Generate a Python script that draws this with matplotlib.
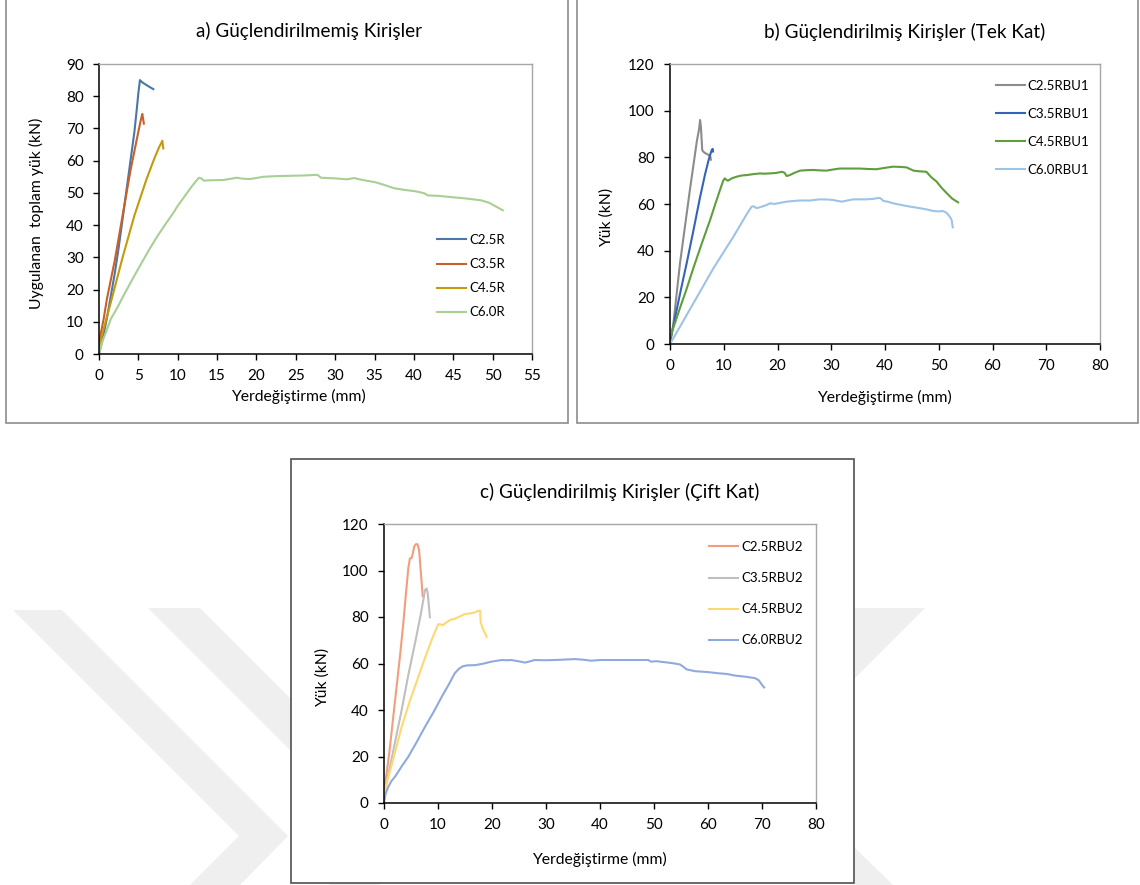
import matplotlib
matplotlib.use("Agg")
import matplotlib.pyplot as plt
from matplotlib.patches import Rectangle, Polygon

plt.rcParams['font.family'] = ['Lato', 'DejaVu Sans']

W, H = 1140, 885

# --- a) Güçlendirilmemiş Kirişler ---
a_x_c25 = [0, 0.5, 1.0, 1.5, 2.0, 2.5, 3.0, 3.5, 4.0, 4.5, 4.8, 5.0, 5.2, 5.5, 6.2, 6.9]
a_y_c25 = [0, 5, 11, 18, 25, 33, 42, 51, 60, 69, 76, 81, 85, 84.3, 83.2, 82.2]
a_x_c35 = [0, 0.2, 0.6, 1.0, 2.0, 3.0, 4.0, 4.5, 5.0, 5.3, 5.5, 5.6, 5.7]
a_y_c35 = [2, 6, 11, 17, 29, 43, 57, 63, 69, 72.5, 74.5, 73, 71.5]
a_x_c45 = [0, 0.5, 1.5, 3.0, 4.5, 6.0, 7.0, 7.6, 8.05, 8.1, 8.17]
a_y_c45 = [2, 7, 16, 30, 43, 54, 60.5, 64, 66.2, 65, 63.8]
a_x_c60 = [0, 0.3, 0.67, 1.0, 1.52, 2.2, 3.2, 4.2, 5.3, 6.4, 7.4, 8.5, 9.5, 10.0, 10.6,
           11.6, 12.2, 12.7, 13.0, 13.3, 14.0, 15.8, 17.5, 18.3, 19.2, 20.9, 22.5, 24.2,
           26.0, 27.75, 28.2, 30.0, 31.5, 32.4, 33.5, 35.1, 36.2, 37.4, 38.6, 40.2, 41.3,
           41.8, 43.0, 45.1, 46.5, 48.5, 49.5, 50.4, 51.3]
a_y_c60 = [0, 3, 5.4, 7.5, 11.0, 13.8, 18.5, 23.0, 27.8, 32.5, 36.5, 40.5, 44.0, 46.0, 48.0,
           51.4, 53.3, 54.7, 54.5, 53.8, 53.9, 54.0, 54.7, 54.4, 54.3, 55.0, 55.2, 55.3,
           55.4, 55.6, 54.7, 54.5, 54.2, 54.6, 54.0, 53.3, 52.5, 51.5, 51.0, 50.5, 49.9,
           49.2, 49.1, 48.6, 48.3, 47.7, 47.0, 45.8, 44.6]

# --- b) Tek Kat ---
b_x_c25 = [0, 0.6, 1.86, 3.7, 5.0, 5.4, 5.6, 5.75, 5.9, 6.0, 6.4, 6.8, 7.2, 7.5, 7.6]
b_y_c25 = [0, 8, 34.6, 66, 87, 92, 96, 93, 87, 83, 82, 81.5, 81, 80.3, 79]
b_x_c35 = [0, 0.5, 1.0, 2.0, 3.1, 4.3, 5.6, 6.5, 7.2, 7.6, 7.8, 7.95, 8.0]
b_y_c35 = [1, 6.5, 12, 23, 34.6, 48, 63, 72.5, 79, 82, 83.3, 83.6, 82.5]
b_x_c45 = [0, 0.4, 1.0, 1.86, 3.0, 4.34, 5.9, 7.44, 8.5, 9.3, 9.9, 10.2, 10.5, 10.8, 11.5,
           12.4, 13.3, 14.3, 15.5, 16.7, 17.6, 18.6, 19.7, 20.8, 21.3, 21.7, 22.3, 23.2,
           24.2, 25.5, 26.7, 27.9, 29.1, 30.4, 31.6, 33.5, 35.3, 36.9, 38.4, 40.0, 41.5,
           42.8, 44.0, 45.3, 46.5, 47.7, 48.6, 49.6, 50.5, 51.5, 52.5, 53.6]
b_y_c45 = [2, 5.5, 9.5, 15.5, 23, 32.5, 43, 53, 60.5, 66, 70, 71, 70.3, 70, 71,
           71.7, 72.2, 72.4, 72.8, 73.1, 73.0, 73.1, 73.3, 73.8, 73.4, 72.0, 72.4, 73.4,
           74.3, 74.5, 74.6, 74.4, 74.3, 74.8, 75.2, 75.2, 75.2, 75.0, 74.9, 75.5, 76.0,
           75.9, 75.7, 74.3, 74.0, 73.8, 71.5, 69.6, 67.0, 64.6, 62.3, 60.7]
b_x_c60 = [0, 2, 4.34, 8.06, 11.8, 14.5, 15.2, 15.6, 16.1, 17.0, 18.0, 18.6, 19.5, 20.5,
           21.7, 23.0, 24.2, 26.0, 27.9, 29.5, 30.4, 31.2, 32.0, 33.0, 34.1, 35.5, 36.6,
           37.8, 38.8, 39.2, 39.7, 40.5, 41.5, 43.0, 44.6, 46.0, 47.7, 49.0, 50.0, 50.8,
           51.4, 51.8, 52.2, 52.4, 52.6]
b_y_c60 = [0, 8, 17.4, 32.4, 46, 56.5, 58.9, 59.0, 58.2, 58.8, 59.6, 60.3, 60.0, 60.5,
           61.0, 61.3, 61.5, 61.5, 62.0, 61.9, 61.7, 61.3, 61.0, 61.5, 62.0, 62.0, 62.0,
           62.2, 62.6, 62.4, 61.3, 61.0, 60.3, 59.6, 58.9, 58.4, 57.7, 57.0, 56.8, 57.0,
           56.3, 55.3, 54.0, 53.1, 50.0]

# --- c) Çift Kat ---
c_x_c25 = [0, 0.5, 1.0, 2.0, 3.0, 3.6, 4.1, 4.5, 4.8, 5.1, 5.3, 5.6, 5.9, 6.2, 6.5, 6.8, 7.0, 7.16]
c_y_c25 = [5.6, 13, 22, 43, 64, 78, 91, 101, 105.2, 105.3, 107, 110.3, 111.3, 111.3, 108.8, 100, 94, 89]
c_x_c35 = [0, 0.5, 1.5, 3.27, 4.5, 5.74, 6.8, 7.6, 7.9, 8.1, 8.3, 8.5]
c_y_c35 = [4.2, 9, 20, 40, 55, 68.7, 81, 91.6, 92.3, 90.2, 85, 79.9]
c_x_c45 = [0, 0.5, 1.5, 3.27, 4.8, 6.36, 7.6, 8.83, 9.5, 10.06, 10.5, 10.9, 11.5, 12.4,
           13.0, 14.0, 15.0, 16.2, 17.0, 17.5, 17.8, 17.9, 18.3, 19.0]
c_y_c45 = [4, 8.5, 17, 32.8, 44, 54.3, 62.5, 70.1, 74, 76.9, 76.8, 76.5, 77.6, 78.9,
           79.1, 80.2, 81.3, 81.6, 82.2, 82.7, 82.7, 77.6, 75, 71.5]
c_x_c60 = [0, 0.3, 0.8, 1.4, 2.04, 3.2, 4.5, 6.0, 7.6, 9.2, 10.7, 12.0, 13.1, 13.9, 14.7,
           15.5, 16.9, 18.5, 19.9, 21.0, 21.8, 22.7, 23.6, 24.8, 26.1, 27.0, 27.9, 29.7,
           31.6, 33.5, 35.4, 37.0, 38.4, 40.0, 41.5, 45.0, 48.9, 49.5, 50.5, 51.4, 52.6,
           53.8, 54.8, 55.5, 56.0, 57.6, 60.0, 61.9, 63.5, 65.0, 67.0, 68.7, 69.4, 69.9, 70.4]
c_y_c60 = [0, 4, 7, 9.5, 11.3, 15.5, 19.9, 26.0, 32.8, 39.2, 45.7, 51.0, 55.8, 57.8, 58.9,
           59.2, 59.3, 60.0, 60.8, 61.2, 61.5, 61.4, 61.5, 61.0, 60.4, 60.9, 61.5, 61.4,
           61.5, 61.7, 61.9, 61.6, 61.2, 61.5, 61.5, 61.5, 61.5, 60.8, 61.0, 60.7, 60.4,
           60.0, 59.6, 58.5, 57.5, 56.7, 56.3, 55.8, 55.5, 54.8, 54.3, 53.7, 52.8, 51.1, 49.7]


def px(x, y):
    # piksel (sol-üst) -> figür koordinatı
    return x / W, 1 - y / H


def axes_px(fig, x0, y0, x1, y1):
    l, t = px(x0, y0)
    r, b = px(x1, y1)
    a = fig.add_axes([l, b, r - l, t - b])
    a.set_zorder(5)
    return a


fig = plt.figure(figsize=(W / 100, H / 100), dpi=100)

# soluk filigran
wm = '#efefef'
for poly in [
    [(13, 610), (62, 610), (288, 836), (240, 885), (190, 885), (239, 836)],
    [(148, 608), (200, 608), (428, 836), (379, 885), (329, 885), (376, 836)],
    [(855, 608), (925, 608), (855, 678)],
    [(855, 848), (893, 885), (855, 885)],
]:
    fig.add_artist(Polygon([px(*p) for p in poly], closed=True, transform=fig.transFigure,
                           facecolor=wm, edgecolor='none', zorder=-2))

# panel çerçeveleri
for (x0, y0, x1, y1, ec) in [(6, -5, 568, 423, '#8c8c8c'),
                             (577, -5, 1138, 423, '#8c8c8c'),
                             (291, 459, 854, 883, '#505050')]:
    l, t = px(x0, y0)
    r, b = px(x1, y1)
    fig.add_artist(Rectangle((l, b), r - l, t - b, transform=fig.transFigure,
                             facecolor='white', edgecolor=ec, lw=1.2, zorder=-1))


def style(ax, xmax, xstep, ymax, ystep):
    ax.set_xlim(0, xmax)
    ax.set_ylim(0, ymax)
    ax.set_xticks(range(0, xmax + 1, xstep))
    ax.set_yticks(range(0, ymax + 1, ystep))
    ax.set_facecolor('none')
    for s in ['top', 'right']:
        ax.spines[s].set_color('#a6a6a6')
        ax.spines[s].set_linewidth(1.0)
    for s in ['left', 'bottom']:
        ax.spines[s].set_color('black')
        ax.spines[s].set_linewidth(1.1)
    ax.tick_params(direction='out', length=4, width=1, labelsize=11, colors='black')
    ax.tick_params(axis='x', pad=7)
    ax.tick_params(axis='y', pad=7)


lw = 1.5
fs_t, fs_l, fs_lg = 13.6, 11.3, 9.5

# a
ax = axes_px(fig, 99, 64, 532, 354)
ax.plot(a_x_c25, a_y_c25, color='#4a76a8', lw=lw, label='C2.5R')
ax.plot(a_x_c35, a_y_c35, color='#c8602a', lw=lw, label='C3.5R')
ax.plot(a_x_c45, a_y_c45, color='#c49a0c', lw=lw, label='C4.5R')
ax.plot(a_x_c60, a_y_c60, color='#a8cf94', lw=lw, label='C6.0R')
style(ax, 55, 5, 90, 10)
ax.legend(loc='upper left', bbox_to_anchor=px(437, 234), bbox_transform=fig.transFigure,
          frameon=False, borderpad=0, borderaxespad=0, handlelength=2.2,
          handletextpad=0.25, labelspacing=0.92, fontsize=fs_lg)
fig.text(*px(309, 31), 'a) Güçlendirilmemiş Kirişler', ha='center', va='center', fontsize=fs_t)
fig.text(*px(36, 213), 'Uygulanan  toplam yük (kN)', ha='center', va='center',
         rotation=90, fontsize=fs_l)
fig.text(*px(298, 396), 'Yerdeğiştirme (mm)', ha='center', va='center', fontsize=fs_l)

# b
ax = axes_px(fig, 670, 64, 1100, 344)
ax.plot(b_x_c25, b_y_c25, color='#8c8c8c', lw=lw, label='C2.5RBU1')
ax.plot(b_x_c35, b_y_c35, color='#3563b8', lw=lw, label='C3.5RBU1')
ax.plot(b_x_c45, b_y_c45, color='#5e9e3c', lw=lw, label='C4.5RBU1')
ax.plot(b_x_c60, b_y_c60, color='#9dc3e6', lw=lw, label='C6.0RBU1')
style(ax, 80, 10, 120, 20)
ax.legend(loc='upper left', bbox_to_anchor=px(996, 80), bbox_transform=fig.transFigure,
          frameon=False, borderpad=0, borderaxespad=0, handlelength=2.2,
          handletextpad=0.2, labelspacing=1.2, fontsize=fs_lg)
fig.text(*px(905, 32), 'b) Güçlendirilmiş Kirişler (Tek Kat)', ha='center', va='center', fontsize=fs_t)
fig.text(*px(607, 217), 'Yük (kN)', ha='center', va='center', rotation=90, fontsize=fs_l)
fig.text(*px(884, 397), 'Yerdeğiştirme (mm)', ha='center', va='center', fontsize=fs_l)

# c
ax = axes_px(fig, 384, 524, 816, 803)
ax.plot(c_x_c25, c_y_c25, color='#f19e7e', lw=lw, label='C2.5RBU2')
ax.plot(c_x_c35, c_y_c35, color='#bfbfbf', lw=lw, label='C3.5RBU2')
ax.plot(c_x_c45, c_y_c45, color='#ffd871', lw=lw, label='C4.5RBU2')
ax.plot(c_x_c60, c_y_c60, color='#8faadc', lw=lw, label='C6.0RBU2')
style(ax, 80, 10, 120, 20)
ax.legend(loc='upper left', bbox_to_anchor=px(709, 541), bbox_transform=fig.transFigure,
          frameon=False, borderpad=0, borderaxespad=0, handlelength=2.2,
          handletextpad=0.25, labelspacing=1.45, fontsize=fs_lg)
fig.text(*px(620, 492), 'c) Güçlendirilmiş Kirişler (Çift Kat)', ha='center', va='center', fontsize=fs_t)
fig.text(*px(323, 677), 'Yük (kN)', ha='center', va='center', rotation=90, fontsize=fs_l)
fig.text(*px(599, 859), 'Yerdeğiştirme (mm)', ha='center', va='center', fontsize=fs_l)

fig.savefig('out.png', dpi=100)
